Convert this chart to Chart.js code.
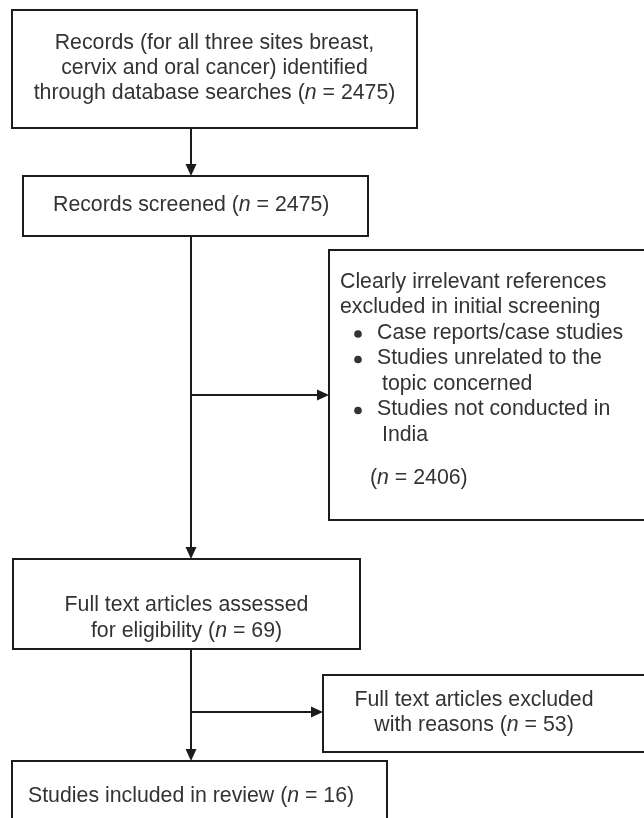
<!DOCTYPE html>
<html>
<head>
<meta charset="utf-8">
<script src="https://cdn.jsdelivr.net/npm/chart.js@4.4.1/dist/chart.umd.min.js"></script>
<style>
    html, body { margin: 0; padding: 0; background: #fff; }
    #wrap { width: 644px; height: 818px; }
</style>
</head>
<body>
<div id="wrap"><canvas id="flow"></canvas></div>
<script>
// Record counts at each stage of the review
const stages = ["identified", "screened", "excludedInitial", "assessed", "excludedFull", "included"]
const counts = [2475, 2475, 2406, 69, 53, 16]

// Text of each box (*n* is drawn in italics)
const nTxt = i => `(*n* = ${counts[i]})`
const stageLines = [
    ["Records (for all three sites breast,", "cervix and oral cancer) identified", `through database searches ${nTxt(0)}`],
    [`Records screened ${nTxt(1)}`],
    ["Clearly irrelevant references", "excluded in initial screening"],
    ["Full text articles assessed", `for eligibility ${nTxt(3)}`],
    ["Full text articles excluded", `with reasons ${nTxt(4)}`],
    [`Studies included in review ${nTxt(5)}`]
]
const exclusionReasons = [["Case reports/case studies"], ["Studies unrelated to the", "topic concerned"], ["Studies not conducted in", "India"]]

// Box layout in diagram units (x: 0-644, y: 0-818 from the top)
const boxLeft = [12, 23, 329, 13, 323, 12]
const boxTop = [10, 176, 250, 559, 675, 761]
const boxRight = [417, 368, 650, 360, 650, 387]
const boxBottom = [128, 236, 520, 649, 752, 840]
const trunkX = 191
const branchY = [395, 712]

const font = '21.3px "Liberation Sans", Arial, sans-serif'
const italicFont = 'italic 21.3px "Liberation Sans", Arial, sans-serif'
const lineCol = '#1c1c1c'
const textCol = '#333333'

function richWidth(ctx, str) {
    let w = 0
    str.split('*').forEach((part, i) => {
        ctx.font = i % 2 ? italicFont : font
        w += ctx.measureText(part).width
    })
    return w
}

function drawRich(ctx, str, x, y, align) {
    let cx = align === 'center' ? x - richWidth(ctx, str) / 2 : x
    str.split('*').forEach((part, i) => {
        ctx.font = i % 2 ? italicFont : font
        ctx.fillText(part, cx, y)
        cx += ctx.measureText(part).width
    })
}

function arrow(ctx, x1, y1, x2, y2) {
    const ang = Math.atan2(y2 - y1, x2 - x1)
    const len = 12, half = 5.5
    ctx.beginPath()
    ctx.moveTo(x1, y1)
    ctx.lineTo(x2 - len * Math.cos(ang), y2 - len * Math.sin(ang))
    ctx.stroke()
    ctx.beginPath()
    ctx.moveTo(x2, y2)
    ctx.lineTo(x2 - len * Math.cos(ang) - half * Math.sin(ang), y2 - len * Math.sin(ang) + half * Math.cos(ang))
    ctx.lineTo(x2 - len * Math.cos(ang) + half * Math.sin(ang), y2 - len * Math.sin(ang) - half * Math.cos(ang))
    ctx.closePath()
    ctx.fill()
}

const flowPlugin = {
    id: 'flowPlugin',
    afterDraw(chart) {
        const ctx = chart.ctx
        const sx = v => chart.scales.x.getPixelForValue(v)
        const sy = v => chart.scales.y.getPixelForValue(v)
        ctx.save()
        ctx.lineWidth = 2
        ctx.strokeStyle = lineCol
        ctx.fillStyle = lineCol

        // boxes
        stages.forEach((s, i) => {
            const l = sx(boxLeft[i]), t = sy(boxTop[i])
            ctx.strokeRect(l, t, sx(boxRight[i]) - l, sy(boxBottom[i]) - t)
        })

        // connectors
        arrow(ctx, sx(trunkX), sy(boxBottom[0]), sx(trunkX), sy(boxTop[1]))
        arrow(ctx, sx(trunkX), sy(boxBottom[1]), sx(trunkX), sy(boxTop[3]))
        arrow(ctx, sx(trunkX), sy(branchY[0]), sx(boxLeft[2]), sy(branchY[0]))
        arrow(ctx, sx(trunkX), sy(boxBottom[3]), sx(trunkX), sy(boxTop[5]))
        arrow(ctx, sx(trunkX), sy(branchY[1]), sx(boxLeft[4]), sy(branchY[1]))

        // text
        ctx.fillStyle = textCol
        ctx.textBaseline = 'middle'
        ctx.textAlign = 'left'
        const mid = i => sx((boxLeft[i] + boxRight[i]) / 2)

        stageLines[0].forEach((t, k) => drawRich(ctx, t, mid(0), sy(43 + k * 25), 'center'))
        drawRich(ctx, stageLines[1][0], sx(53), sy(205), 'left')
        stageLines[3].forEach((t, k) => drawRich(ctx, t, mid(3), sy(605 + k * 26), 'center'))
        stageLines[4].forEach((t, k) => drawRich(ctx, t, sx(474), sy(700 + k * 25), 'center'))
        drawRich(ctx, stageLines[5][0], sx(28), sy(796), 'left')

        // initial screening exclusions with bullet list
        stageLines[2].forEach((t, k) => drawRich(ctx, t, sx(340), sy(282 + k * 25.5), 'left'))
        let row = 0
        exclusionReasons.forEach(reason => {
            const y = sy(333 + row * 25.5)
            ctx.beginPath()
            ctx.arc(sx(358), y + 1, 3.8, 0, Math.PI * 2)
            ctx.fill()
            reason.forEach((t, k) => drawRich(ctx, t, sx(k ? 382 : 377), sy(333 + (row + k) * 25.5), 'left'))
            row += reason.length
        })
        drawRich(ctx, nTxt(2), sx(370), sy(478), 'left')
        ctx.restore()
    }
}

new Chart(document.getElementById('flow'), {
    type: 'scatter',
    data: { datasets: [{ data: [], pointRadius: 0 }] },
    options: {
        responsive: true,
        maintainAspectRatio: false,
        animation: false,
        layout: { padding: 0 },
        scales: {
            x: { type: 'linear', min: 0, max: 644, display: false },
            y: { type: 'linear', min: 0, max: 818, reverse: true, display: false }
        },
        plugins: { legend: { display: false }, tooltip: { enabled: false } }
    },
    plugins: [flowPlugin]
})
</script>
</body>
</html>
